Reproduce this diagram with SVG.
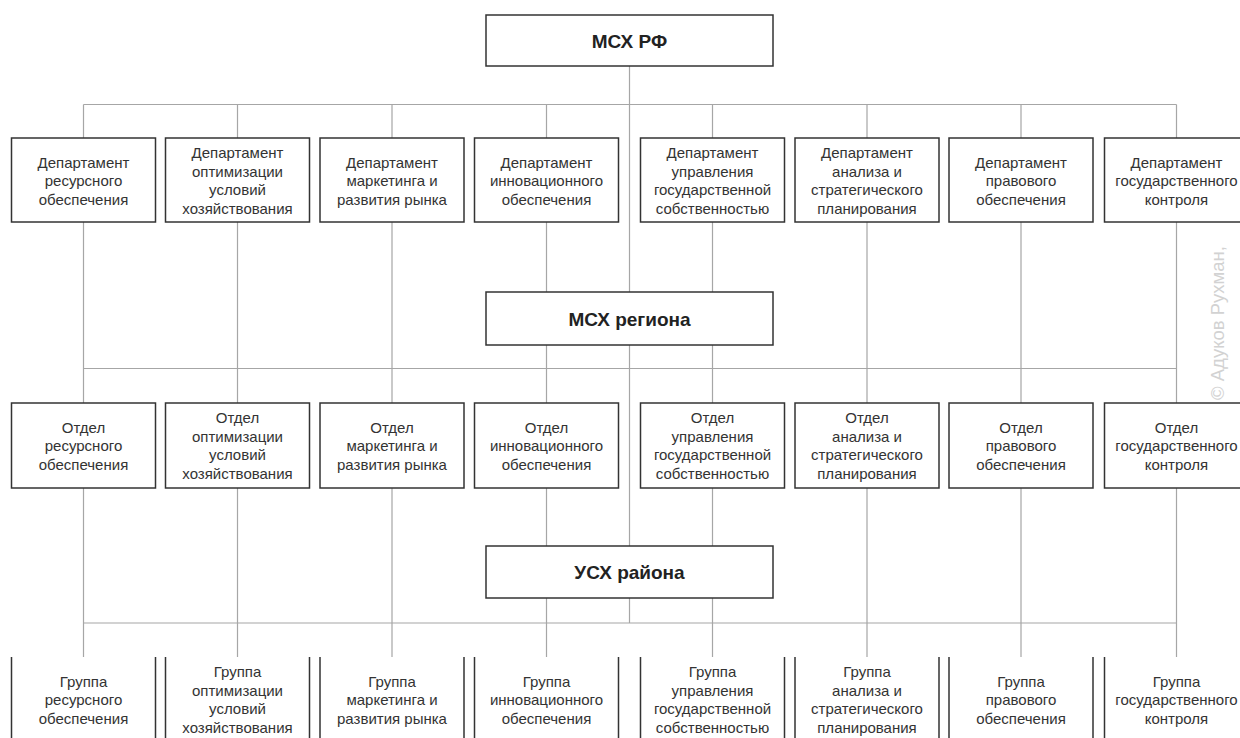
<svg xmlns="http://www.w3.org/2000/svg" width="1240" height="738" viewBox="0 0 1240 738">
<style>
.box{fill:#fff;stroke:#333;stroke-width:1.5}
.side{fill:none;stroke:#333;stroke-width:1.5}
.ln{stroke:#a6a6a6;stroke-width:1.2;fill:none}
.lbl{font-family:"Liberation Sans",Arial,sans-serif;font-size:15px;fill:#333;text-anchor:middle}
.ttl{font-family:"Liberation Sans",Arial,sans-serif;font-size:19px;font-weight:bold;fill:#222;text-anchor:middle}
.wm{font-family:"Liberation Sans",Arial,sans-serif;font-size:18.5px;fill:#d2d2d2}
</style>
<rect width="1240" height="738" fill="#fff"/>
<g id="connectors" class="ln">
<path d="M629.5 66V623"/>
<path d="M83.5 104.5H1176.5M83.5 368.5H1176.5M83.5 623H1176.5"/>
<path d="M83.5 104.5V657M237.5 104.5V657M392 104.5V657M546.5 104.5V657M712.5 104.5V657M867 104.5V657M1021 104.5V657M1176.5 104.5V657"/>
</g>
<g id="mskh-rf"><rect class="box" x="486" y="15" width="287" height="51"/><text class="ttl" x="629.5" y="47.5">МСХ РФ</text></g>
<g id="dep1"><rect class="box" x="11.5" y="138" width="144" height="84"/><text class="lbl"><tspan x="83.5" y="167.5">Департамент</tspan><tspan x="83.5" y="186">ресурсного</tspan><tspan x="83.5" y="204.5">обеспечения</tspan></text></g>
<g id="dep2"><rect class="box" x="165.5" y="138" width="144" height="84"/><text class="lbl"><tspan x="237.5" y="158">Департамент</tspan><tspan x="237.5" y="176.5">оптимизации</tspan><tspan x="237.5" y="195">условий</tspan><tspan x="237.5" y="213.5">хозяйствования</tspan></text></g>
<g id="dep3"><rect class="box" x="320" y="138" width="144" height="84"/><text class="lbl"><tspan x="392" y="167.5">Департамент</tspan><tspan x="392" y="186">маркетинга и</tspan><tspan x="392" y="204.5">развития рынка</tspan></text></g>
<g id="dep4"><rect class="box" x="474.5" y="138" width="144" height="84"/><text class="lbl"><tspan x="546.5" y="167.5">Департамент</tspan><tspan x="546.5" y="186">инновационного</tspan><tspan x="546.5" y="204.5">обеспечения</tspan></text></g>
<g id="dep5"><rect class="box" x="640.5" y="138" width="144" height="84"/><text class="lbl"><tspan x="712.5" y="158">Департамент</tspan><tspan x="712.5" y="176.5">управления</tspan><tspan x="712.5" y="195">государственной</tspan><tspan x="712.5" y="213.5">собственностью</tspan></text></g>
<g id="dep6"><rect class="box" x="795" y="138" width="144" height="84"/><text class="lbl"><tspan x="867" y="158">Департамент</tspan><tspan x="867" y="176.5">анализа и</tspan><tspan x="867" y="195">стратегического</tspan><tspan x="867" y="213.5">планирования</tspan></text></g>
<g id="dep7"><rect class="box" x="949" y="138" width="144" height="84"/><text class="lbl"><tspan x="1021" y="167.5">Департамент</tspan><tspan x="1021" y="186">правового</tspan><tspan x="1021" y="204.5">обеспечения</tspan></text></g>
<g id="dep8"><rect class="box" x="1104.5" y="138" width="144" height="84"/><text class="lbl"><tspan x="1176.5" y="167.5">Департамент</tspan><tspan x="1176.5" y="186">государственного</tspan><tspan x="1176.5" y="204.5">контроля</tspan></text></g>
<g id="mskh-region"><rect class="box" x="486" y="292" width="287" height="53"/><text class="ttl" x="629.5" y="325.5">МСХ региона</text></g>
<g id="otd1"><rect class="box" x="11.5" y="403" width="144" height="85"/><text class="lbl"><tspan x="83.5" y="432.5">Отдел</tspan><tspan x="83.5" y="451">ресурсного</tspan><tspan x="83.5" y="469.5">обеспечения</tspan></text></g>
<g id="otd2"><rect class="box" x="165.5" y="403" width="144" height="85"/><text class="lbl"><tspan x="237.5" y="423">Отдел</tspan><tspan x="237.5" y="441.5">оптимизации</tspan><tspan x="237.5" y="460">условий</tspan><tspan x="237.5" y="478.5">хозяйствования</tspan></text></g>
<g id="otd3"><rect class="box" x="320" y="403" width="144" height="85"/><text class="lbl"><tspan x="392" y="432.5">Отдел</tspan><tspan x="392" y="451">маркетинга и</tspan><tspan x="392" y="469.5">развития рынка</tspan></text></g>
<g id="otd4"><rect class="box" x="474.5" y="403" width="144" height="85"/><text class="lbl"><tspan x="546.5" y="432.5">Отдел</tspan><tspan x="546.5" y="451">инновационного</tspan><tspan x="546.5" y="469.5">обеспечения</tspan></text></g>
<g id="otd5"><rect class="box" x="640.5" y="403" width="144" height="85"/><text class="lbl"><tspan x="712.5" y="423">Отдел</tspan><tspan x="712.5" y="441.5">управления</tspan><tspan x="712.5" y="460">государственной</tspan><tspan x="712.5" y="478.5">собственностью</tspan></text></g>
<g id="otd6"><rect class="box" x="795" y="403" width="144" height="85"/><text class="lbl"><tspan x="867" y="423">Отдел</tspan><tspan x="867" y="441.5">анализа и</tspan><tspan x="867" y="460">стратегического</tspan><tspan x="867" y="478.5">планирования</tspan></text></g>
<g id="otd7"><rect class="box" x="949" y="403" width="144" height="85"/><text class="lbl"><tspan x="1021" y="432.5">Отдел</tspan><tspan x="1021" y="451">правового</tspan><tspan x="1021" y="469.5">обеспечения</tspan></text></g>
<g id="otd8"><rect class="box" x="1104.5" y="403" width="144" height="85"/><text class="lbl"><tspan x="1176.5" y="432.5">Отдел</tspan><tspan x="1176.5" y="451">государственного</tspan><tspan x="1176.5" y="469.5">контроля</tspan></text></g>
<g id="uskh-raion"><rect class="box" x="486" y="546" width="287" height="52"/><text class="ttl" x="629.5" y="579">УСХ района</text></g>
<g id="grp1"><path class="side" d="M11.5 657V740M155.5 657V740"/><text class="lbl"><tspan x="83.5" y="686.5">Группа</tspan><tspan x="83.5" y="705">ресурсного</tspan><tspan x="83.5" y="723.5">обеспечения</tspan></text></g>
<g id="grp2"><path class="side" d="M165.5 657V740M309.5 657V740"/><text class="lbl"><tspan x="237.5" y="677">Группа</tspan><tspan x="237.5" y="695.5">оптимизации</tspan><tspan x="237.5" y="714">условий</tspan><tspan x="237.5" y="732.5">хозяйствования</tspan></text></g>
<g id="grp3"><path class="side" d="M320 657V740M464 657V740"/><text class="lbl"><tspan x="392" y="686.5">Группа</tspan><tspan x="392" y="705">маркетинга и</tspan><tspan x="392" y="723.5">развития рынка</tspan></text></g>
<g id="grp4"><path class="side" d="M474.5 657V740M618.5 657V740"/><text class="lbl"><tspan x="546.5" y="686.5">Группа</tspan><tspan x="546.5" y="705">инновационного</tspan><tspan x="546.5" y="723.5">обеспечения</tspan></text></g>
<g id="grp5"><path class="side" d="M640.5 657V740M784.5 657V740"/><text class="lbl"><tspan x="712.5" y="677">Группа</tspan><tspan x="712.5" y="695.5">управления</tspan><tspan x="712.5" y="714">государственной</tspan><tspan x="712.5" y="732.5">собственностью</tspan></text></g>
<g id="grp6"><path class="side" d="M795 657V740M939 657V740"/><text class="lbl"><tspan x="867" y="677">Группа</tspan><tspan x="867" y="695.5">анализа и</tspan><tspan x="867" y="714">стратегического</tspan><tspan x="867" y="732.5">планирования</tspan></text></g>
<g id="grp7"><path class="side" d="M949 657V740M1093 657V740"/><text class="lbl"><tspan x="1021" y="686.5">Группа</tspan><tspan x="1021" y="705">правового</tspan><tspan x="1021" y="723.5">обеспечения</tspan></text></g>
<g id="grp8"><path class="side" d="M1104.5 657V740"/><text class="lbl"><tspan x="1176.5" y="686.5">Группа</tspan><tspan x="1176.5" y="705">государственного</tspan><tspan x="1176.5" y="723.5">контроля</tspan></text></g>
<g id="watermark" class="wm"><text transform="translate(1224 400) rotate(-90)">© Адуков Рухман,</text></g>
</svg>
